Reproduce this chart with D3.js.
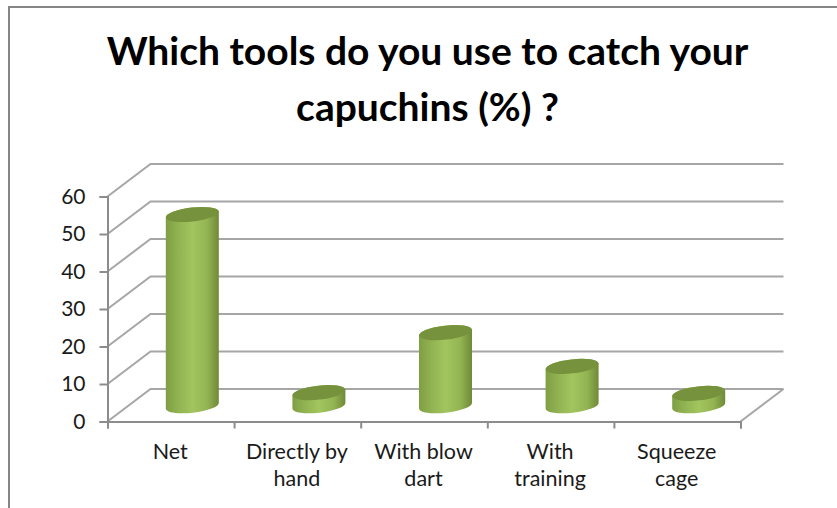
<!DOCTYPE html>
<html><head><meta charset="utf-8">
<script src="https://cdn.jsdelivr.net/npm/d3@7"></script>
<style>html,body{margin:0;padding:0;background:#fff}svg{display:block}text{font-family:Lato,"Noto Sans",sans-serif}</style>
</head><body><svg id="c" width="837" height="508"></svg>
<script>
const categories = ["Net","Directly by hand","With blow dart","With training","Squeeze cage"];
const categoryLines = [["Net"],["Directly by","hand"],["With blow","dart"],["With","training"],["Squeeze","cage"]];
const values = [51,3.5,19.5,10.5,3.3];
const yTicks = [0,10,20,30,40,50,60];
const titleLines = ["Which tools do you use to catch your","capuchins (%) ?"];

const svg = d3.select("#c");
const grid = "#a6a6a6", axisC = "#8c8c8c";
svg.append("path").attr("d","M9,508V7H837").attr("fill","none").attr("stroke","#868686").attr("stroke-width",2);

const titleG = svg.append("g");
titleLines.forEach((t,i)=>titleG.append("text").attr("x",427.5).attr("y",[65,121][i]).attr("text-anchor","middle")
  .attr("font-size",39).attr("font-weight",700).attr("fill","#000").text(t));

const x = d3.scaleBand().domain(categories).range([107.5,740.5]);
const y = d3.scaleLinear().domain([0,60]).range([421.5,196.5]);
const dx = 43, dy = -32.5;

const wall = svg.append("g").attr("fill","none").attr("stroke",grid).attr("stroke-width",2);
yTicks.forEach(v=>{
  wall.append("path").attr("d",`M${x.range()[0]},${y(v)}l${dx},${dy}H${x.range()[1]+dx}`);
});
wall.append("path").attr("d",`M${x.range()[1]},${y(0)}l${dx},${dy}`);

const yAxis = d3.axisLeft(y).tickValues(yTicks).tickSize(8).tickPadding(14).tickFormat(d3.format("d"));
const yG = svg.append("g").attr("transform",`translate(${x.range()[0]},0)`).call(yAxis);
yG.select(".domain").attr("stroke",axisC).attr("stroke-width",2);
yG.selectAll("line").attr("stroke",axisC).attr("stroke-width",2);
yG.selectAll("text").attr("font-size",21).attr("fill","#1a1a1a").attr("font-family","Lato");

const xEdges = d3.scaleLinear().domain([0,categories.length]).range(x.range());
const xAxis = d3.axisBottom(xEdges).tickValues(d3.range(categories.length+1)).tickSize(7).tickFormat("");
const xG = svg.append("g").attr("transform",`translate(0,${y(0)})`).call(xAxis);
xG.select(".domain").attr("stroke",axisC).attr("stroke-width",2);
xG.selectAll("line").attr("stroke",axisC).attr("stroke-width",2);

categoryLines.forEach((lines,i)=>{
  const cx = x(categories[i])+x.bandwidth()/2-0.5;
  lines.forEach((l,j)=>svg.append("text").attr("x",cx).attr("y",459+j*27).attr("text-anchor","middle")
    .attr("font-size",21.5).attr("fill","#1a1a1a").text(l));
});

const defs = svg.append("defs");
const g = defs.append("linearGradient").attr("id","cyl");
[[0,"#7f9e45"],[0.2,"#8fb04f"],[0.5,"#a3c55f"],[0.78,"#93b452"],[1,"#6f8a38"]].forEach(s=>
  g.append("stop").attr("offset",s[0]).attr("stop-color",s[1]));

const rx = 26.6, ry = 7, rot = -6.5, tx = 26.5, ty = 3;
const bars = svg.append("g");
values.forEach((v,i)=>{
  const cx = x(categories[i])+x.bandwidth()/2+dx/2;
  const by = y(0)+dy/2+0.5, ty0 = y(v)+dy/2+0.5;
  const arc = (px,py,sw)=>`A${rx},${ry} ${rot} 0 ${sw} ${px},${py}`;
  bars.append("path")
    .attr("d",`M${cx-tx},${ty0+ty}L${cx-tx},${by+ty}${arc(cx+tx,by-ty,0)}L${cx+tx},${ty0-ty}${arc(cx-tx,ty0+ty,0)}Z`)
    .attr("fill","url(#cyl)");
  bars.append("ellipse").attr("cx",cx).attr("cy",ty0).attr("rx",rx).attr("ry",ry)
    .attr("transform",`rotate(${rot} ${cx} ${ty0})`).attr("fill","#76923c");
});
</script></body></html>
